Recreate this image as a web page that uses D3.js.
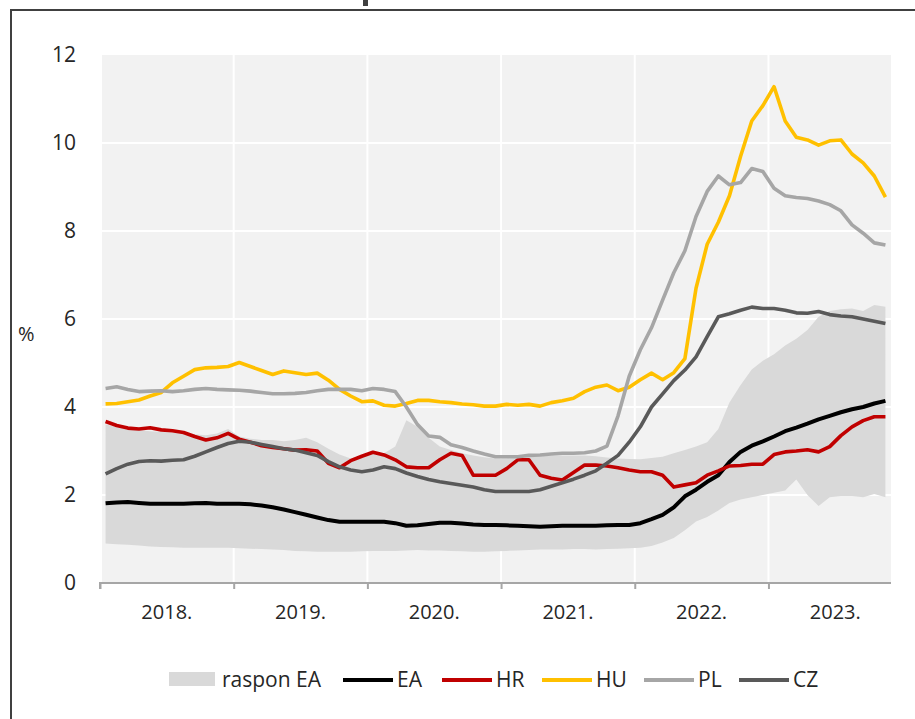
<!DOCTYPE html>
<html>
<head>
<meta charset="utf-8">
<script src="https://cdn.jsdelivr.net/npm/d3@7"></script>
<style>
  body { margin: 0; background: #fff; }
  svg { display: block; font-family: "Open Sans", sans-serif; }
</style>
</head>
<body>
<svg id="chart" width="915" height="719"></svg>
<script>
// monthly, Jan 2018 .. Nov 2023
const years = ["2018.", "2019.", "2020.", "2021.", "2022.", "2023."];
const yTicks = [0, 2, 4, 6, 8, 10, 12];

const rangeLow = [0.9, 0.88, 0.87, 0.85, 0.83, 0.82, 0.81, 0.8, 0.8, 0.8, 0.8, 0.8,
  0.79, 0.78, 0.77, 0.76, 0.75, 0.73, 0.72, 0.71, 0.71, 0.71, 0.71, 0.72,
  0.73, 0.73, 0.73, 0.74, 0.75, 0.74, 0.74, 0.73, 0.72, 0.71, 0.71, 0.72,
  0.73, 0.74, 0.75, 0.76, 0.76, 0.76, 0.77, 0.77, 0.76, 0.77, 0.78, 0.79,
  0.8, 0.84, 0.92, 1.02, 1.2, 1.4, 1.5, 1.65, 1.82, 1.9, 1.95, 2.0,
  2.05, 2.1, 2.35, 2.0, 1.75, 1.95, 1.98, 1.98, 1.95, 2.02, 1.95];
const rangeHigh = [3.6, 3.55, 3.5, 3.47, 3.45, 3.43, 3.42, 3.4, 3.38, 3.36, 3.4, 3.5,
  3.33, 3.28, 3.25, 3.25, 3.22, 3.25, 3.3, 3.2, 3.05, 2.92, 2.83, 2.9,
  2.97, 2.95, 3.1, 3.7, 3.55, 3.3, 3.1, 3.02, 2.95, 2.9, 2.86, 2.83,
  2.83, 2.84, 2.86, 2.88, 2.9, 2.9, 2.9, 2.9, 2.88, 2.85, 2.83, 2.82,
  2.81, 2.84, 2.87, 2.95, 3.02, 3.1, 3.2, 3.5, 4.1, 4.5, 4.85, 5.05,
  5.2, 5.4, 5.55, 5.75, 6.05, 6.18, 6.22, 6.24, 6.18, 6.32, 6.28];

const ea = [1.81, 1.83, 1.84, 1.82, 1.8, 1.8, 1.8, 1.8, 1.81, 1.82, 1.8, 1.8,
  1.8, 1.79, 1.76, 1.72, 1.67, 1.61, 1.55, 1.49, 1.43, 1.39, 1.39, 1.39,
  1.39, 1.39, 1.36, 1.3, 1.31, 1.34, 1.37, 1.37, 1.35, 1.33, 1.32, 1.32,
  1.31, 1.3, 1.29, 1.28, 1.29, 1.3, 1.3, 1.3, 1.3, 1.31, 1.32, 1.32,
  1.36, 1.45, 1.55, 1.72, 1.97, 2.12, 2.3, 2.45, 2.75, 2.98, 3.12, 3.22,
  3.33, 3.45, 3.53, 3.62, 3.72, 3.8, 3.88, 3.95, 4.0, 4.08, 4.14];
const hr = [3.67, 3.58, 3.52, 3.5, 3.53, 3.48, 3.46, 3.42, 3.33, 3.25, 3.3, 3.4,
  3.27, 3.2, 3.12, 3.08, 3.05, 3.02, 3.03, 3.0, 2.72, 2.62, 2.78, 2.88,
  2.97, 2.91, 2.8, 2.64, 2.62, 2.62, 2.8, 2.95, 2.9, 2.45, 2.45, 2.45,
  2.6, 2.8, 2.8, 2.45, 2.38, 2.34, 2.51, 2.68, 2.68, 2.66, 2.62, 2.57,
  2.53, 2.53, 2.45, 2.18, 2.23, 2.28, 2.45, 2.55, 2.66, 2.67, 2.7, 2.7,
  2.92, 2.98, 3.0, 3.03, 2.98, 3.1, 3.35, 3.55, 3.69, 3.78, 3.78];
const hu = [4.07, 4.08, 4.12, 4.16, 4.25, 4.33, 4.55, 4.7, 4.85, 4.89, 4.9, 4.92,
  5.01, 4.92, 4.83, 4.74, 4.82, 4.78, 4.74, 4.77, 4.61, 4.4, 4.25, 4.12,
  4.14, 4.04, 4.02, 4.08, 4.15, 4.15, 4.12, 4.1, 4.07, 4.05, 4.02, 4.02,
  4.06, 4.04, 4.06, 4.02, 4.1, 4.14, 4.2, 4.35, 4.45, 4.5, 4.37, 4.45,
  4.62, 4.77, 4.62, 4.78, 5.1, 6.7, 7.7, 8.2, 8.8, 9.7, 10.5, 10.85,
  11.28, 10.5, 10.13, 10.07, 9.95, 10.05, 10.07, 9.75, 9.55, 9.25, 8.77];
const pl = [4.42, 4.46, 4.4, 4.35, 4.36, 4.37, 4.35, 4.37, 4.4, 4.42, 4.4, 4.39,
  4.38, 4.36, 4.33, 4.3, 4.3, 4.31, 4.33, 4.37, 4.4, 4.4, 4.4, 4.37,
  4.42, 4.4, 4.35, 4.0, 3.6, 3.34, 3.31, 3.14, 3.08, 3.0, 2.93, 2.87,
  2.87, 2.87, 2.9, 2.91, 2.93, 2.95, 2.95, 2.96, 3.0, 3.11, 3.8, 4.7,
  5.3, 5.8, 6.43, 7.05, 7.55, 8.33, 8.9, 9.25, 9.05, 9.1, 9.42, 9.35,
  8.97, 8.8, 8.76, 8.74, 8.68, 8.6, 8.46, 8.14, 7.95, 7.73, 7.68];
const cz = [2.48, 2.6, 2.7, 2.76, 2.78, 2.77, 2.79, 2.8, 2.88, 2.98, 3.08, 3.17,
  3.22, 3.2, 3.15, 3.1, 3.05, 3.02, 2.96, 2.9, 2.76, 2.64, 2.57, 2.53,
  2.57, 2.64, 2.6, 2.5, 2.42, 2.35, 2.3, 2.26, 2.22, 2.18, 2.12, 2.08,
  2.08, 2.08, 2.08, 2.12, 2.2, 2.28, 2.36, 2.45, 2.55, 2.72, 2.9, 3.2,
  3.55, 4.0, 4.3, 4.6, 4.84, 5.14, 5.6, 6.05, 6.12, 6.2, 6.27, 6.24,
  6.24, 6.2, 6.14, 6.13, 6.17, 6.1, 6.07, 6.05, 6.0, 5.95, 5.9];

const series = [
  { name: "EA", values: ea, color: "#000000", width: 4 },
  { name: "HR", values: hr, color: "#c00000", width: 3.6 },
  { name: "HU", values: hu, color: "#ffc000", width: 3.6 },
  { name: "PL", values: pl, color: "#a6a6a6", width: 3.6 },
  { name: "CZ", values: cz, color: "#595959", width: 3.6 }
];

const svg = d3.select("#chart");
const textColor = "#262626";

// outer frame (cut off on right/bottom) and title remnant
svg.append("rect")
  .attr("x", 11).attr("y", 10)
  .attr("width", 1000).attr("height", 1000)
  .attr("fill", "none").attr("stroke", "#404040").attr("stroke-width", 2);
svg.append("rect")
  .attr("x", 363).attr("y", 0).attr("width", 5).attr("height", 6)
  .attr("fill", "#404040");

let x = d3.scaleLinear().domain([0, 71]).range([100, 891]);
let y = d3.scaleLinear().domain([0, 12]).range([583, 55]);

// plot background
svg.append("rect")
  .attr("x", x(0) + 2).attr("y", y(12))
  .attr("width", x(71) - x(0) - 2).attr("height", y(0) - y(12))
  .attr("fill", "#f2f2f2");

// white gridlines
svg.append("g").selectAll("line")
  .data(yTicks.slice(1, -1))
  .enter().append("line")
  .attr("x1", x(0) + 2).attr("x2", x(71))
  .attr("y1", (d) => y(d)).attr("y2", (d) => y(d))
  .attr("stroke", "#fff").attr("stroke-width", 2);

const yearStarts = d3.range(0, 72, 12);
svg.append("g").selectAll("line")
  .data(yearStarts.slice(1))
  .enter().append("line")
  .attr("x1", (d) => x(d)).attr("x2", (d) => x(d))
  .attr("y1", y(12)).attr("y2", y(0))
  .attr("stroke", "#fff").attr("stroke-width", 2);

const idx = d3.range(ea.length);

// EA range band
let area = d3.area()
  .x((i) => x(i + 0.5))
  .y0((i) => y(rangeLow[i]))
  .y1((i) => y(rangeHigh[i]));
svg.append("path")
  .datum(idx)
  .attr("d", area)
  .attr("fill", "#d9d9d9");

// lines
let line = d3.line();
series.forEach(function (s) {
  line.x((i) => x(i + 0.5)).y((i) => y(s.values[i]));
  svg.append("path")
    .datum(idx)
    .attr("d", line)
    .attr("fill", "none")
    .attr("stroke", s.color)
    .attr("stroke-width", s.width)
    .attr("stroke-linejoin", "round");
});

// x axis
let xAxis = d3.axisBottom(x).tickValues(yearStarts).tickSize(6).tickFormat("");
let gx = svg.append("g")
  .attr("transform", `translate(0,${y(0)})`)
  .call(xAxis);
gx.select(".domain").attr("stroke", "#a6a6a6").attr("stroke-width", 2)
  .attr("d", `M${x(0)},6V0H${x(71)}`);
gx.selectAll(".tick line").attr("stroke", "#a6a6a6").attr("stroke-width", 2);

svg.append("g").selectAll("text")
  .data(years)
  .enter().append("text")
  .attr("x", (d, i) => x(i * 12 + 6))
  .attr("y", 619)
  .attr("text-anchor", "middle")
  .attr("font-size", 20)
  .attr("fill", textColor)
  .text((d) => d);

// y axis labels
let yAxis = d3.axisLeft(y).tickValues(yTicks).tickSize(0).tickPadding(0);
let gy = svg.append("g")
  .attr("transform", "translate(76,0)")
  .call(yAxis);
gy.select(".domain").remove();
gy.selectAll("text")
  .attr("font-family", "Open Sans, sans-serif")
  .attr("font-size", 21)
  .attr("fill", textColor);

svg.append("text")
  .attr("x", 18).attr("y", 341)
  .attr("font-size", 20)
  .attr("fill", textColor)
  .text("%");

// legend
const legendY = 680;
let lg = svg.append("g").attr("font-size", 21).attr("fill", textColor);
lg.append("rect")
  .attr("x", 169).attr("y", legendY - 8).attr("width", 46).attr("height", 14)
  .attr("fill", "#d9d9d9");
lg.append("text")
  .attr("x", 222).attr("y", legendY + 7)
  .text("raspon EA");

const legendX = [343, 442, 542, 644, 739];
series.forEach(function (s, i) {
  lg.append("line")
    .attr("x1", legendX[i]).attr("x2", legendX[i] + 50)
    .attr("y1", legendY).attr("y2", legendY)
    .attr("stroke", s.color).attr("stroke-width", 4);
  lg.append("text")
    .attr("x", legendX[i] + 54).attr("y", legendY + 7)
    .text(s.name);
});
</script>
</body>
</html>
